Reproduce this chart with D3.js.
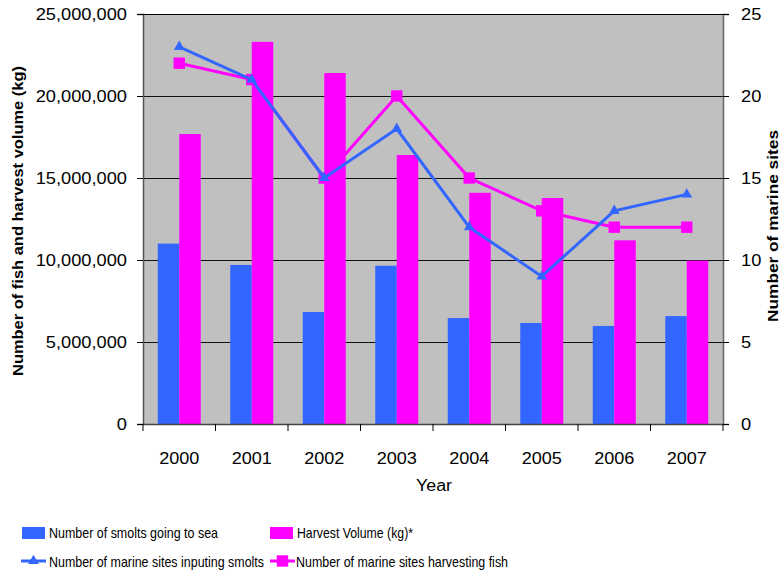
<!DOCTYPE html>
<html>
<head>
<meta charset="utf-8">
<script src="https://cdn.jsdelivr.net/npm/d3@7"></script>
<style>
  html, body { margin: 0; padding: 0; background: #fff; }
  svg { display: block; }
  text { font-family: "Liberation Sans", Arial, sans-serif; fill: #000; }
</style>
</head>
<body>
<svg id="chart" width="783" height="575"></svg>
<script>
// Salmon farming: smolts input, harvest volume and active marine sites, 2000-2007
const years = ["2000", "2001", "2002", "2003", "2004", "2005", "2006", "2007"];
const smoltsToSea = [11000000, 9700000, 6830000, 9650000, 6460000, 6160000, 5980000, 6580000];
const harvestVolume = [17680000, 23300000, 21400000, 16400000, 14100000, 13780000, 11200000, 9960000];
const sitesInputting = [23, 21, 15, 18, 12, 9, 13, 14];
const sitesHarvesting = [22, 21, 15, 20, 15, 13, 12, 12];
const leftTicks = [0, 5000000, 10000000, 15000000, 20000000, 25000000];
const rightTicks = [0, 5, 10, 15, 20, 25];

const BLUE = "#3366ff";
const MAGENTA = "#ff00ff";

const svg = d3.select("#chart");
const plot = { left: 143, right: 723, top: 14, bottom: 424 };

// stretch or squeeze text horizontally to a given width
function fitText(sel, len) {
  sel.attr("textLength", len).attr("lengthAdjust", "spacingAndGlyphs");
}
function scaleText(sel, factor) {
  sel.each(function () {
    const w = this.getComputedTextLength();
    d3.select(this).attr("textLength", w * factor).attr("lengthAdjust", "spacingAndGlyphs");
  });
}

const x = d3.scaleBand().domain(years).range([plot.left, plot.right]).padding(0);
const xSub = d3.scaleBand().domain(["smolts", "harvest"]).range([0, x.bandwidth()])
  .paddingInner(0).paddingOuter(0.686);
const yLeft = d3.scaleLinear().domain([0, 25000000]).range([plot.bottom, plot.top]);
const yRight = d3.scaleLinear().domain([0, 25]).range([plot.bottom, plot.top]);

// plot background
svg.append("rect")
  .attr("x", plot.left).attr("y", plot.top)
  .attr("width", plot.right - plot.left).attr("height", plot.bottom - plot.top)
  .attr("fill", "#c0c0c0");

// horizontal gridlines
svg.append("g").selectAll("line")
  .data(leftTicks.filter(d => d > 0))
  .join("line")
  .attr("x1", plot.left).attr("x2", plot.right)
  .attr("y1", d => Math.round(yLeft(d)) + 0.5).attr("y2", d => Math.round(yLeft(d)) + 0.5)
  .attr("stroke", "#111").attr("stroke-width", 1);

// bars
const groups = svg.append("g").selectAll("g")
  .data(years.map((yr, i) => ({ yr, smolts: smoltsToSea[i], harvest: harvestVolume[i] })))
  .join("g")
  .attr("transform", d => `translate(${x(d.yr)},0)`);

groups.append("rect")
  .attr("x", xSub("smolts")).attr("width", xSub.bandwidth())
  .attr("y", d => yLeft(d.smolts)).attr("height", d => yLeft(0) - yLeft(d.smolts))
  .attr("fill", BLUE);
groups.append("rect")
  .attr("x", xSub("harvest")).attr("width", xSub.bandwidth())
  .attr("y", d => yLeft(d.harvest)).attr("height", d => yLeft(0) - yLeft(d.harvest))
  .attr("fill", MAGENTA);

// left axis
const gLeft = svg.append("g")
  .attr("transform", `translate(${plot.left},0)`)
  .call(d3.axisLeft(yLeft).tickValues(leftTicks).tickSize(6).tickPadding(10)
    .tickFormat(d3.format(",")));
gLeft.select(".domain").attr("stroke", "#555").attr("stroke-width", 1.5);
gLeft.selectAll(".tick line").attr("stroke", "#000");
gLeft.selectAll(".tick text").style("font-size", "16px").attr("dy", "0.36em");
scaleText(gLeft.selectAll(".tick text"), 1.14);

// right axis
const gRight = svg.append("g")
  .attr("transform", `translate(${plot.right},0)`)
  .call(d3.axisRight(yRight).tickValues(rightTicks).tickSize(6).tickPadding(12));
gRight.select(".domain").attr("stroke", "#666").attr("stroke-width", 1.5);
gRight.selectAll(".tick line").attr("stroke", "#000");
gRight.selectAll(".tick text").style("font-size", "16px").attr("dy", "0.36em");
scaleText(gRight.selectAll(".tick text"), 1.14);

// top border
svg.append("line")
  .attr("x1", plot.left).attr("x2", plot.right)
  .attr("y1", plot.top + 0.5).attr("y2", plot.top + 0.5)
  .attr("stroke", "#000").attr("stroke-width", 1);

// bottom axis: labels at category centres, ticks at category boundaries
const gBottom = svg.append("g")
  .attr("transform", `translate(0,${plot.bottom})`)
  .call(d3.axisBottom(x).tickSize(0).tickPadding(29));
gBottom.select(".domain").attr("stroke", "#444").attr("stroke-width", 1.5);
gBottom.selectAll(".tick text").style("font-size", "16px");
scaleText(gBottom.selectAll(".tick text"), 1.13);
gBottom.append("g").selectAll("line")
  .data(years.map(yr => x(yr)).concat([plot.right]))
  .join("line")
  .attr("x1", d => d).attr("x2", d => d)
  .attr("y1", 0).attr("y2", 7)
  .attr("stroke", "#000");

// lines with markers
const cx = yr => x(yr) + x.bandwidth() / 2;
const lineGen = d3.line().x(d => cx(d.yr)).y(d => yRight(d.v));
const inputData = years.map((yr, i) => ({ yr, v: sitesInputting[i] }));
const harvestData = years.map((yr, i) => ({ yr, v: sitesHarvesting[i] }));

const triangle = d3.symbol().type(d3.symbolTriangle).size(50);
const square = d3.symbol().type(d3.symbolSquare).size(130);

svg.append("path").datum(harvestData)
  .attr("d", lineGen).attr("fill", "none")
  .attr("stroke", MAGENTA).attr("stroke-width", 3);
svg.append("g").selectAll("path").data(harvestData).join("path")
  .attr("d", square)
  .attr("transform", d => `translate(${cx(d.yr)},${yRight(d.v)})`)
  .attr("fill", MAGENTA);

svg.append("path").datum(inputData)
  .attr("d", lineGen).attr("fill", "none")
  .attr("stroke", BLUE).attr("stroke-width", 3);
svg.append("g").selectAll("path").data(inputData).join("path")
  .attr("d", triangle)
  .attr("transform", d => `translate(${cx(d.yr)},${yRight(d.v)})`)
  .attr("fill", BLUE);

// axis titles
svg.append("text")
  .attr("transform", `translate(23,${(plot.top + plot.bottom) / 2 + 2}) rotate(-90)`)
  .attr("text-anchor", "middle")
  .style("font-size", "14px").style("font-weight", "bold")
  .text("Number of fish and harvest volume (kg)")
  .call(fitText, 310);

svg.append("text")
  .attr("transform", `translate(778,${(plot.top + plot.bottom) / 2 + 7}) rotate(-90)`)
  .attr("text-anchor", "middle")
  .style("font-size", "14px").style("font-weight", "bold")
  .text("Number of marine sites")
  .call(fitText, 192);

svg.append("text")
  .attr("x", 434).attr("y", 491)
  .attr("text-anchor", "middle")
  .style("font-size", "16px")
  .text("Year")
  .call(fitText, 36);

// legend
const legend = svg.append("g");
const legendItems = [
  { label: "Number of smolts going to sea", kind: "bar", color: BLUE, x: 22, y: 538, len: 169 },
  { label: "Harvest Volume (kg)*", kind: "bar", color: MAGENTA, x: 270, y: 538, len: 116 },
  { label: "Number of marine sites inputing smolts", kind: "tri", color: BLUE, x: 21, y: 567, len: 215 },
  { label: "Number of marine sites harvesting fish", kind: "sq", color: MAGENTA, x: 270, y: 567, len: 212 }
];
legendItems.forEach(it => {
  const g = legend.append("g");
  if (it.kind === "bar") {
    g.append("rect").attr("x", it.x).attr("y", it.y - 11)
      .attr("width", 23).attr("height", 12).attr("fill", it.color);
  } else {
    g.append("line").attr("x1", it.x).attr("x2", it.x + 25)
      .attr("y1", it.y - 6).attr("y2", it.y - 6)
      .attr("stroke", it.color).attr("stroke-width", 3);
    g.append("path")
      .attr("d", it.kind === "tri" ? triangle : square)
      .attr("transform", `translate(${it.x + 12.5},${it.y - 6})`)
      .attr("fill", it.color);
  }
  g.append("text").attr("x", it.kind === "bar" ? it.x + 27 : 49 + (it.x > 100 ? 247 : 0))
    .attr("y", it.y)
    .style("font-size", "15px")
    .text(it.label)
    .call(fitText, it.len);
});
</script>
</body>
</html>
